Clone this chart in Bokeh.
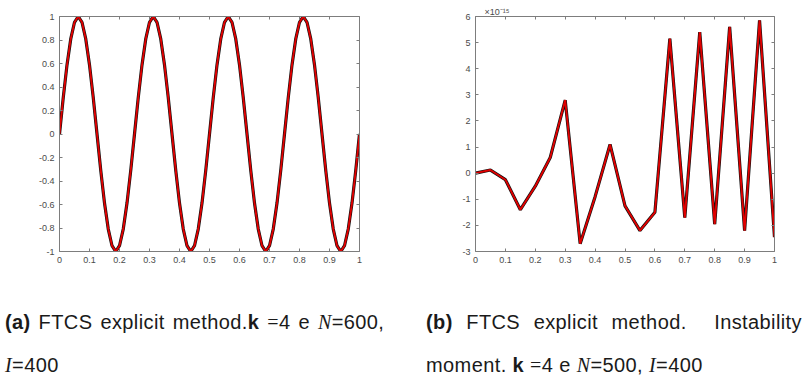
from bokeh.plotting import figure
from bokeh.models import LinearAxis, FixedTicker, Div, Range1d
from bokeh.layouts import column, row
from bokeh.embed import file_html
from bokeh.resources import INLINE

# ---------------- data ----------------
# (a) FTCS explicit method, k=4, N=600, I=400 : solution sampled every 0.0125
XA = [i * 0.0125 for i in range(81)]
YA = [0.0, 0.309, 0.588, 0.809, 0.951, 1.0, 0.951, 0.809, 0.588, 0.309,
      0.0, -0.309, -0.588, -0.809, -0.951, -1.0, -0.951, -0.809, -0.588, -0.309,
      0.0, 0.309, 0.588, 0.809, 0.951, 1.0, 0.951, 0.809, 0.588, 0.309,
      0.0, -0.309, -0.588, -0.809, -0.951, -1.0, -0.951, -0.809, -0.588, -0.309,
      0.0, 0.309, 0.588, 0.809, 0.951, 1.0, 0.951, 0.809, 0.588, 0.309,
      0.0, -0.309, -0.588, -0.809, -0.951, -1.0, -0.951, -0.809, -0.588, -0.309,
      0.0, 0.309, 0.588, 0.809, 0.951, 1.0, 0.951, 0.809, 0.588, 0.309,
      0.0, -0.309, -0.588, -0.809, -0.951, -1.0, -0.951, -0.809, -0.588, -0.309,
      0.0]

# (b) instability moment, k=4, N=500, I=400 (values in units of 1e-15)
XB = [0.0, 0.05, 0.1, 0.15, 0.2, 0.25, 0.3, 0.35, 0.4, 0.45, 0.5,
      0.55, 0.6, 0.65, 0.7, 0.75, 0.8, 0.85, 0.9, 0.95, 1.0]
YB = [0.0, 0.12, -0.25, -1.4, -0.5, 0.6, 2.8, -2.7, -0.9, 1.1, -1.25,
      -2.2, -1.5, 5.15, -1.7, 5.4, -1.95, 5.6, -2.2, 5.85, -2.45]
YB_EXPONENT = "\u00d710\u207b\u00b9\u2075"

XTICKS = [0, 0.1, 0.2, 0.3, 0.4, 0.5, 0.6, 0.7, 0.8, 0.9, 1]
XTICK_LABELS = ["0", "0.1", "0.2", "0.3", "0.4", "0.5", "0.6", "0.7", "0.8", "0.9", "1"]
YA_TICKS = [-1, -0.8, -0.6, -0.4, -0.2, 0, 0.2, 0.4, 0.6, 0.8, 1]
YA_TICK_LABELS = ["-1", "-0.8", "-0.6", "-0.4", "-0.2", "0", "0.2", "0.4", "0.6", "0.8", "1"]
YB_TICKS = [-3, -2, -1, 0, 1, 2, 3, 4, 5, 6]
YB_TICK_LABELS = ["-3", "-2", "-1", "0", "1", "2", "3", "4", "5", "6"]

AX_COLOR = "#7d7d7d"
LBL_COLOR = "#4a4a4a"
FONT = "Liberation Sans"


def style_axis(ax, ticks, labels, show_labels=True):
    ax.ticker = FixedTicker(ticks=ticks)
    ax.axis_line_color = AX_COLOR
    ax.axis_line_width = 1
    ax.major_tick_line_color = AX_COLOR
    ax.major_tick_in = 3
    ax.major_tick_out = 0
    ax.minor_tick_line_color = None
    ax.major_label_text_font = FONT
    ax.major_label_text_color = LBL_COLOR
    if show_labels:
        ax.major_label_overrides = {t: l for t, l in zip(ticks, labels)}
        ax.major_label_text_font_size = "9px"
        ax.major_label_standoff = 5
    else:
        ax.major_label_text_font_size = "1px"
        ax.major_label_text_color = None
        ax.major_label_standoff = 0


def make_fig(width, left, right, xs, ys, yticks, ylabels, ymin, ymax):
    p = figure(width=width, height=296, output_backend="svg", toolbar_location=None,
               x_range=Range1d(0, 1), y_range=Range1d(ymin, ymax),
               min_border_left=left, min_border_right=right,
               min_border_top=16, min_border_bottom=45,
               x_axis_location=None, y_axis_location=None)
    p.grid.visible = False
    p.outline_line_color = None
    p.background_fill_color = "white"
    p.border_fill_color = "white"
    bx = LinearAxis(); style_axis(bx, XTICKS, XTICK_LABELS); p.add_layout(bx, "below")
    ly = LinearAxis(); style_axis(ly, yticks, ylabels); p.add_layout(ly, "left")
    tx = LinearAxis(); style_axis(tx, XTICKS, XTICK_LABELS, False); p.add_layout(tx, "above")
    ry = LinearAxis(); style_axis(ry, yticks, ylabels, False); p.add_layout(ry, "right")
    p.line(xs, ys, line_color="#111111", line_width=3.2)
    p.line(xs, ys, line_color="#e00000", line_width=1.9)
    return p


pa = make_fig(405, 59, 46, XA, YA, YA_TICKS, YA_TICK_LABELS, -1, 1)
pb = make_fig(406, 70, 37, XB, YB, YB_TICKS, YB_TICK_LABELS, -3, 6)

pb.title.text = YB_EXPONENT
pb.title.align = "left"
pb.title.offset = 9
pb.title.text_font = FONT
pb.title.text_font_size = "9px"
pb.title.text_font_style = "normal"
pb.title.text_color = LBL_COLOR
pb.title.standoff = 0

SERIF = "font-family:'Liberation Serif';"
base = ("font-family:'Liberation Sans'; font-size:20px; line-height:43px; color:#1a1a1a;"
        " white-space:nowrap; letter-spacing:0.4px; margin:0;")

cap_a = (f"<div style=\"{base} padding-left:0px; word-spacing:2px;\">"
         f"<b>(a)</b> FTCS explicit method.<b>k</b> <span style=\"{SERIF}\">=</span>4 e "
         f"<i style=\"{SERIF}\">N</i>=600,<br>"
         f"<i style=\"{SERIF}\">I</i>=400</div>")

cap_b = (f"<div style=\"{base} padding-left:6px; width:382px;\">"
         f"<div style=\"display:flex; justify-content:space-between;\">"
         f"<b>(b)</b><span>FTCS</span><span>explicit</span><span>method.</span>"
         f"<span style=\"margin-left:14px;\">Instability</span></div>"
         f"<div>moment. <b>k</b> <span style=\"{SERIF}\">=</span>4 e "
         f"<i style=\"{SERIF}\">N</i>=500, <i style=\"{SERIF}\">I</i>=400</div></div>")

da = Div(text=cap_a, width=405, height=84)
db = Div(text=cap_b, width=406, height=84)

layout = column(row(pa, pb), row(da, db))
open("out.html", "w").write(file_html(layout, INLINE))
